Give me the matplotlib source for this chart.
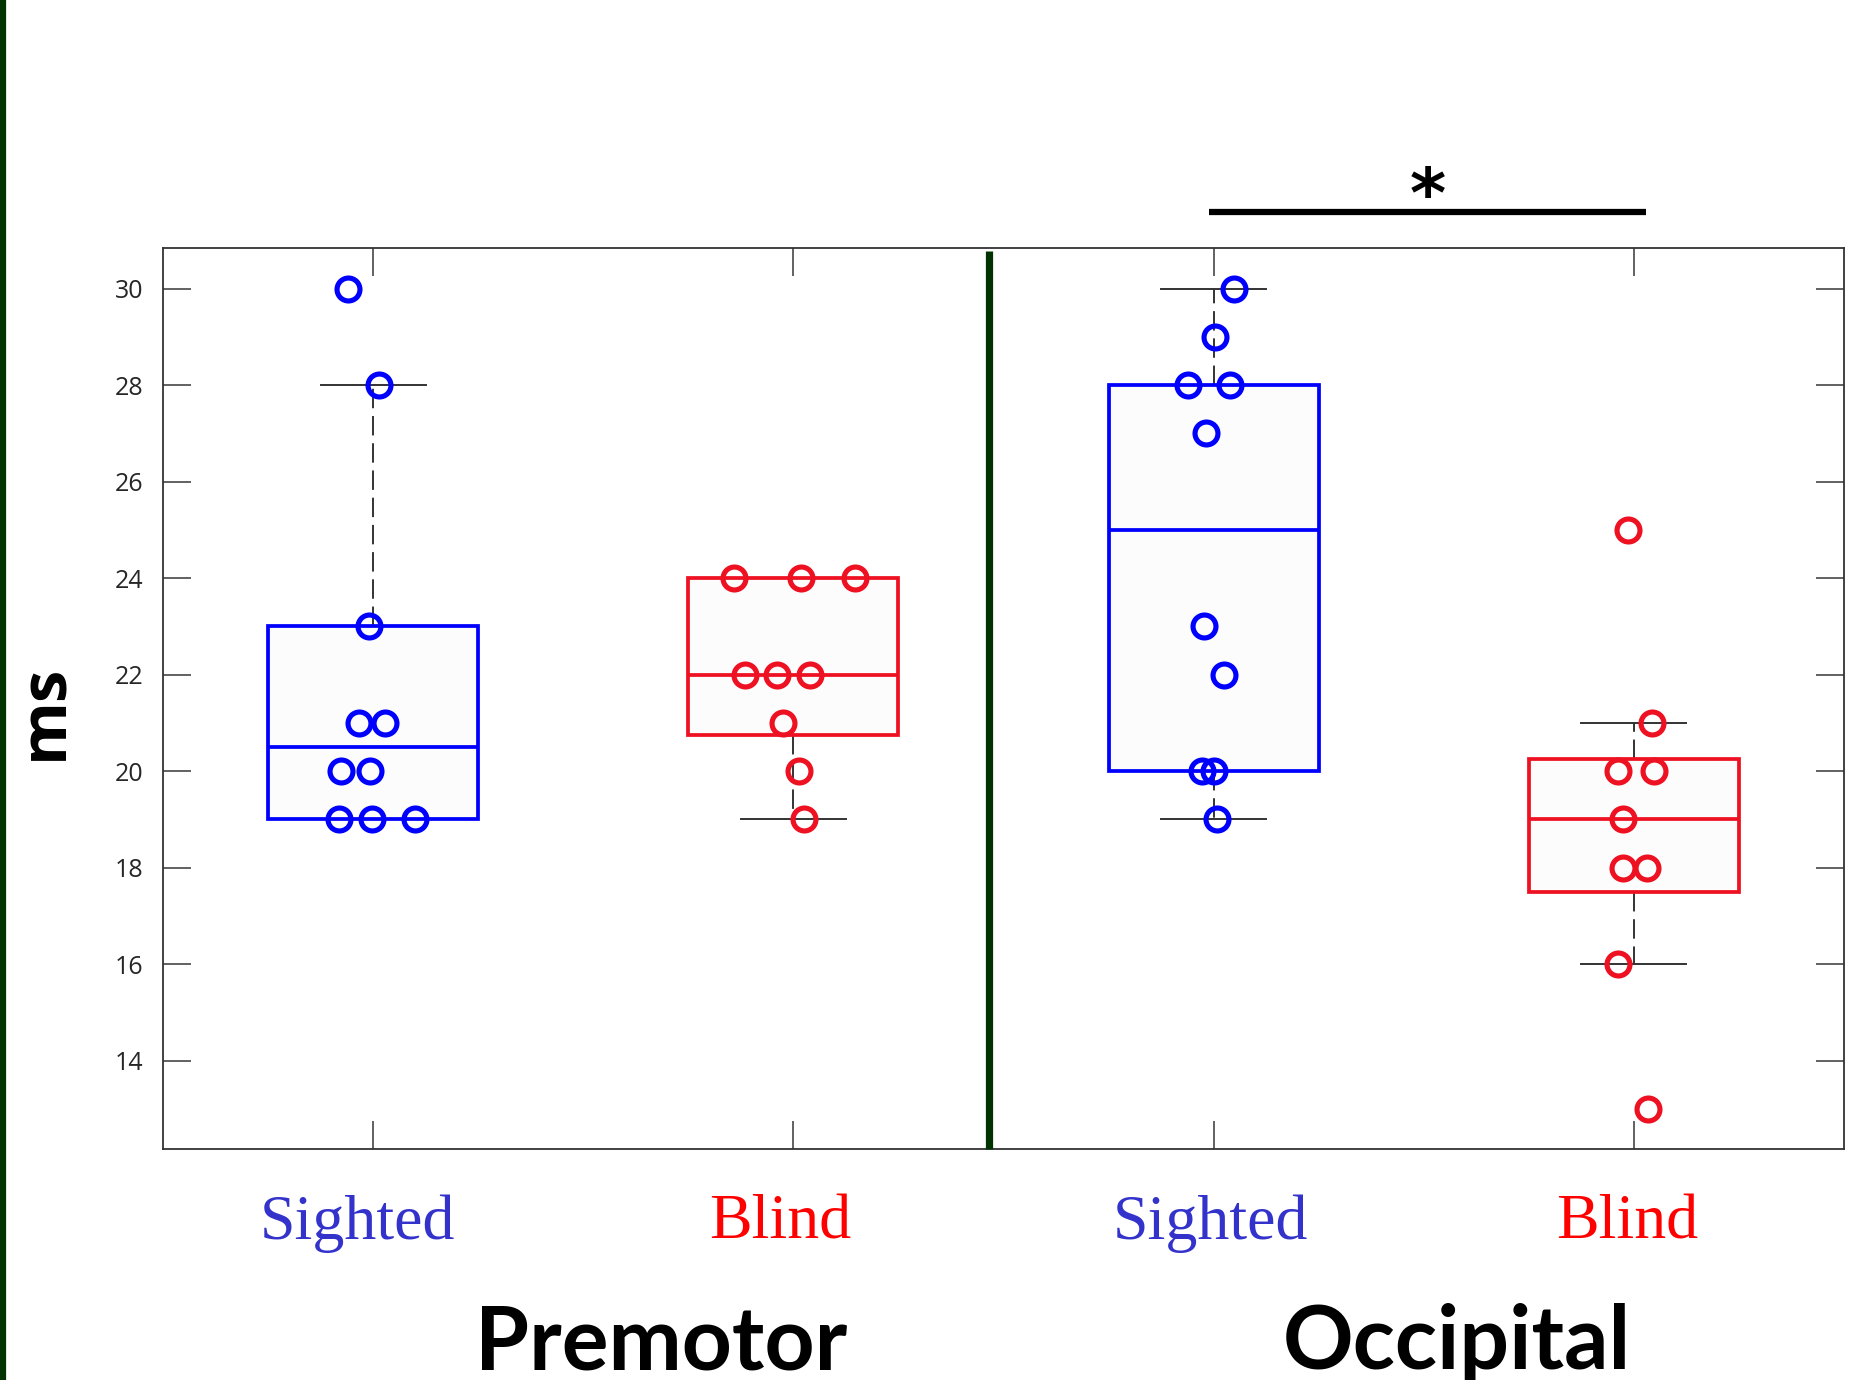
import numpy as np
import matplotlib
matplotlib.use("Agg")
import matplotlib.pyplot as plt
from matplotlib.lines import Line2D

# ---- data (ms) ----
groups = ["Sighted", "Blind", "Sighted", "Blind"]
regions = ["Premotor", "Occipital"]

premotor_sighted = [30, 28, 23, 21, 21, 20, 20, 19, 19, 19]
premotor_blind = [24, 24, 24, 22, 22, 22, 21, 20, 19]
occipital_sighted = [30, 29, 28, 28, 27, 23, 22, 20, 20, 19]
occipital_blind = [25, 21, 20, 20, 19, 18, 18, 16, 13]

# horizontal jitter of the individual points
jit_premotor_sighted = [-0.06, 0.014, -0.01, -0.034, 0.028, -0.076, -0.008, -0.082, -0.003, 0.099]
jit_premotor_blind = [-0.141, 0.017, 0.147, -0.116, -0.04, 0.04, -0.025, 0.014, 0.025]
jit_occipital_sighted = [0.048, 0.003, -0.062, 0.04, -0.017, -0.023, 0.025, -0.028, 0.0, 0.008]
jit_occipital_blind = [-0.014, 0.043, -0.037, 0.048, -0.025, -0.025, 0.031, -0.037, 0.034]

yticks = [14, 16, 18, 20, 22, 24, 26, 28, 30]

series = [premotor_sighted, premotor_blind, occipital_sighted, occipital_blind]
jitters = [jit_premotor_sighted, jit_premotor_blind, jit_occipital_sighted, jit_occipital_blind]

BLUE = "#0000FF"
RED = "#EE1122"
LBL_BLUE = "#3333CC"
LBL_RED = "#FF0000"
DARK_GREEN = "#003300"
box_colors = [BLUE, RED, BLUE, RED]
label_colors = [LBL_BLUE, LBL_RED, LBL_BLUE, LBL_RED]


def prctile(values, p):
    """Percentile with the (i - 0.5) / n plotting-position convention."""
    x = np.sort(np.asarray(values, dtype=float))
    n = len(x)
    pos = n * p / 100.0 + 0.5
    if pos <= 1:
        return x[0]
    if pos >= n:
        return x[-1]
    lo = int(np.floor(pos))
    frac = pos - lo
    return x[lo - 1] + frac * (x[lo] - x[lo - 1])


def box_stats(values):
    x = np.asarray(values, dtype=float)
    q1, med, q3 = prctile(x, 25), prctile(x, 50), prctile(x, 75)
    iqr = q3 - q1
    lo_f, hi_f = q1 - 1.5 * iqr, q3 + 1.5 * iqr
    inside = x[(x >= lo_f) & (x <= hi_f)]
    return dict(med=med, q1=q1, q3=q3, whislo=inside.min(), whishi=inside.max(),
                fliers=[])


W, H, DPI = 1863, 1380, 100
fig = plt.figure(figsize=(W / DPI, H / DPI), dpi=DPI)
ax = fig.add_axes([163 / W, 1 - 1149 / H, (1844 - 163) / W, (1149 - 248) / H])

positions = [1, 2, 3, 4]
stats = [box_stats(s) for s in series]
bp = ax.bxp(stats, positions=positions, widths=0.5, capwidths=0.25,
            patch_artist=True, showfliers=False,
            boxprops=dict(linewidth=2.7, facecolor="#FCFCFC"),
            medianprops=dict(linewidth=2.7),
            whiskerprops=dict(color="#333333", linewidth=1.4, linestyle=(0, (10, 4))),
            capprops=dict(color="#333333", linewidth=1.4),
            zorder=2)
for i, c in enumerate(box_colors):
    bp["boxes"][i].set_edgecolor(c)
    bp["medians"][i].set_color(c)
for w in bp["whiskers"] + bp["caps"]:
    w.set_zorder(1)

for pos, vals, jit, c in zip(positions, series, jitters, box_colors):
    ax.plot(np.array(jit) + pos, vals, linestyle="none", marker="o",
            markersize=16.5, markerfacecolor="none", markeredgecolor=c,
            markeredgewidth=3.7, zorder=4)

ax.set_xlim(0.5, 4.5)
ax.set_ylim(12.17, 30.84)

# separator between the two regions
ax.plot([2.465, 2.465], [12.17, 30.77], color=DARK_GREEN, linewidth=5.2,
        solid_capstyle="butt", zorder=5, clip_on=False)

# axes styling
for sp in ax.spines.values():
    sp.set_color("#333333")
    sp.set_linewidth(1.3)
ax.set_yticks(yticks)
ax.set_yticklabels([str(t) for t in yticks], fontsize=18, color="#262626",
                   fontfamily="Open Sans")
ax.tick_params(axis="y", direction="in", length=20, width=1.3, color="#555555",
               left=True, right=True, pad=14)
ax.set_xticks(positions)
ax.set_xticklabels([])
ax.tick_params(axis="x", direction="in", length=20, width=1.3, color="#555555",
               top=True, bottom=True)

# group names under each box, in serif, coloured by group
label_dx = [-0.037, -0.031, -0.008, -0.017]
xform = ax.get_xaxis_transform()
for pos, name, c, dx in zip(positions, groups, label_colors, label_dx):
    ax.text(pos + dx, -0.0995, name, transform=xform, ha="center",
            va="baseline", fontsize=46, fontfamily="Liberation Serif",
            color=c, clip_on=False)

ax.set_ylabel("ms", fontsize=47, fontweight="bold", fontfamily="Open Sans")
ax.yaxis.set_label_coords(-0.0505, 0.4855)

# significance bar between the occipital groups
ax.plot([2.988, 4.03], [31.58, 31.58], color="black", linewidth=4.5,
        solid_capstyle="butt", clip_on=False, zorder=6)
ax.text(3.51, 31.2, "*", ha="center", va="bottom", fontsize=50,
        fontweight="bold", fontfamily="DejaVu Sans", color="black",
        clip_on=False)

# region titles
fig.text(661 / W, 1 - 1369 / H, regions[0], ha="center", va="baseline",
         fontsize=63, fontweight="bold", fontfamily="Lato")
fig.text(1457 / W, 1 - 1369 / H, regions[1], ha="center", va="baseline",
         fontsize=63, fontweight="bold", fontfamily="Lato")

# dark green strip along the left edge
fig.add_artist(Line2D([3 / W, 3 / W], [0, 1], color=DARK_GREEN,
                      linewidth=4.5, transform=fig.transFigure))

fig.savefig("out.png", dpi=DPI, facecolor="white")
